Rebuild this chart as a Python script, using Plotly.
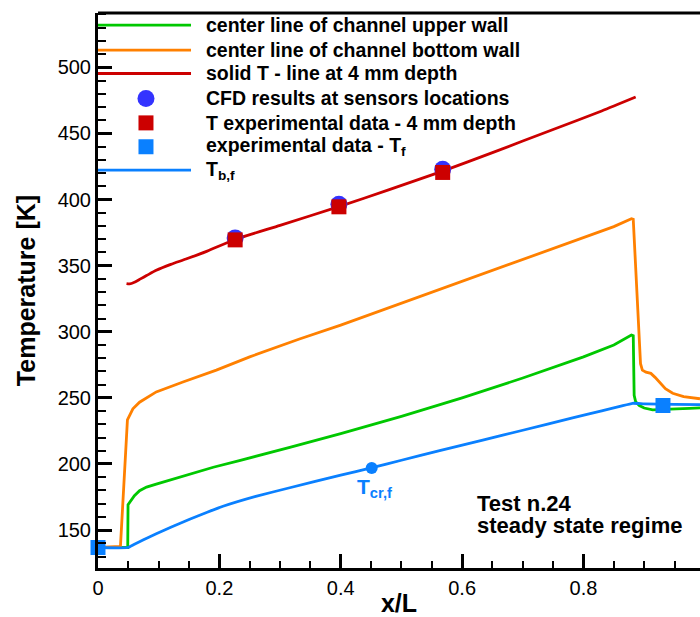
import plotly.graph_objects as go

# ---------------- data ----------------
upper_x = [0, 0.049, 0.0495, 0.06, 0.0685, 0.08, 0.096, 0.12, 0.151, 0.19, 0.233, 0.28, 0.316,
           0.4, 0.5, 0.6, 0.7, 0.8, 0.85, 0.879, 0.882, 0.8835, 0.886, 0.892, 0.9, 0.914, 0.93,
           0.953, 0.975, 0.992]
upper_T = [136.8, 136.8, 169.2, 176, 179.8, 182.5, 184.8, 188, 192.4, 197.5, 202.5, 208, 212.6,
           223, 236, 250, 265, 281, 290, 297.5, 297, 252, 247, 244.2, 242.3, 240.9, 241,
           241.7, 242.1, 242.4]

bottom_x = [0, 0.037, 0.0485, 0.0575, 0.0685, 0.096, 0.14, 0.195, 0.25, 0.332, 0.4, 0.5, 0.6,
            0.7, 0.8, 0.85, 0.879, 0.882, 0.894, 0.897, 0.903, 0.911, 0.918, 0.925, 0.935,
            0.947, 0.965, 0.992]
bottom_T = [136.8, 137.6, 233.4, 241.7, 246.7, 254.5, 262, 271, 281, 294.5, 305, 321.5, 338,
            354.5, 371, 379.5, 385.5, 385, 275.8, 271, 269.4, 268.5, 265.5, 261.8, 257,
            253.5, 251, 249.3]

solid_x = [0.047, 0.052, 0.06, 0.07, 0.08, 0.096, 0.12, 0.145, 0.18, 0.226, 0.3, 0.397, 0.48,
           0.568, 0.65, 0.75, 0.83, 0.886]
solid_T = [336.4, 336.2, 337.5, 340, 342.5, 346.5, 351, 355, 361, 369.8, 380.5, 394.6,
           407.5, 421.5, 435.5, 453, 467, 477.5]

sensor_x = [0.226, 0.397, 0.568]
cfd_T = [371, 396.5, 423]
exp_solid_T = [369.5, 394.5, 420.5]

exp_fluid_x = [0.0, 0.931]
exp_fluid_T = [136.8, 244.2]

bulk_x = [0, 0.049, 0.06, 0.075, 0.096, 0.12, 0.151, 0.18, 0.206, 0.26, 0.316, 0.4, 0.45, 0.5,
          0.563, 0.634, 0.7, 0.782, 0.83, 0.86, 0.881, 0.9, 0.95, 0.992]
bulk_T = [136.8, 136.8, 139.3, 142.7, 147.2, 152.1, 158.2, 163.5, 168, 175.5, 182, 191.6, 197,
          202.8, 210, 218, 225.5, 234.8, 240.2, 243.5, 245.9, 245.5, 245, 244.9]

tcr_x = [0.451]
tcr_T = [197]

x_ticks = [0, 0.2, 0.4, 0.6, 0.8]
y_ticks = [150, 200, 250, 300, 350, 400, 450, 500]

legend_labels = ["center line of channel upper wall", "center line of channel bottom wall",
                 "solid T - line at 4 mm depth", "CFD results at sensors locations",
                 "T experimental data - 4 mm depth", "experimental data - T<sub>f</sub>",
                 "T<sub>b,f</sub>"]

# ---------------- styles ----------------
GREEN = "#00C800"
ORANGE = "#FF8000"
RED = "#CC0000"
BLUE_LINE = "#0A80FF"
BLUE_CIRCLE = "#3333FF"
FONT = "Liberation Sans, Arial, sans-serif"

fig = go.Figure()
fig.add_trace(go.Scatter(x=upper_x, y=upper_T, mode="lines", line=dict(color=GREEN, width=2.8),
                         showlegend=False))
fig.add_trace(go.Scatter(x=bottom_x, y=bottom_T, mode="lines", line=dict(color=ORANGE, width=2.8),
                         showlegend=False))
fig.add_trace(go.Scatter(x=solid_x, y=solid_T, mode="lines",
                         line=dict(color=RED, width=2.8, shape="spline", smoothing=0.6),
                         showlegend=False))
fig.add_trace(go.Scatter(x=bulk_x, y=bulk_T, mode="lines",
                         line=dict(color=BLUE_LINE, width=2.8, shape="spline", smoothing=0.4),
                         showlegend=False))
fig.add_trace(go.Scatter(x=sensor_x, y=cfd_T, mode="markers",
                         marker=dict(symbol="circle", size=17, color=BLUE_CIRCLE, line=dict(width=0)),
                         showlegend=False))
fig.add_trace(go.Scatter(x=sensor_x, y=exp_solid_T, mode="markers",
                         marker=dict(symbol="square", size=15, color=RED, line=dict(width=0)),
                         showlegend=False))
fig.add_trace(go.Scatter(x=exp_fluid_x, y=exp_fluid_T, mode="markers",
                         marker=dict(symbol="square", size=15, color=BLUE_LINE, line=dict(width=0)),
                         showlegend=False, cliponaxis=False))
fig.add_trace(go.Scatter(x=tcr_x, y=tcr_T, mode="markers",
                         marker=dict(symbol="circle", size=12, color=BLUE_LINE, line=dict(width=0)),
                         showlegend=False))

# ---------------- manual legend (Tecplot style) ----------------
leg_y = [0.978, 0.933, 0.891, 0.846, 0.802, 0.759, 0.717]
leg_kind = ["line", "line", "line", "circle", "square", "square", "line"]
leg_col = [GREEN, ORANGE, RED, BLUE_CIRCLE, RED, BLUE_LINE, BLUE_LINE]
shapes = []
annotations = []
for lab, yy, kind, col in zip(legend_labels, leg_y, leg_kind, leg_col):
    if kind == "line":
        shapes.append(dict(type="line", xref="paper", yref="paper", x0=0.0, x1=0.1545, y0=yy, y1=yy,
                           line=dict(color=col, width=2.8)))
    else:
        half = 8.5 if kind == "circle" else 7.5
        shapes.append(dict(type="circle" if kind == "circle" else "rect", xref="paper", yref="paper",
                           xsizemode="pixel", ysizemode="pixel", xanchor=0.0797, yanchor=yy,
                           x0=-half, x1=half, y0=-half, y1=half, fillcolor=col, line=dict(width=0)))
    annotations.append(dict(xref="paper", yref="paper", x=0.176, y=yy, xanchor="left", yanchor="middle",
                            text=lab, showarrow=False,
                            font=dict(family=FONT, size=19.5, color="black", weight="bold")))

# top frame line
shapes.append(dict(type="line", xref="paper", yref="paper", x0=0, x1=1, y0=1, y1=1,
                   line=dict(color="black", width=3)))

annotations.append(dict(xref="x", yref="y", x=tcr_x[0], y=tcr_T[0], xanchor="center", yanchor="top",
                        xshift=3, yshift=-5, text="<b>T<sub>cr,f</sub></b>", showarrow=False,
                        font=dict(family=FONT, size=21, color=BLUE_LINE)))
annotations.append(dict(xref="paper", yref="paper", x=0.627, y=0.117, xanchor="left", yanchor="middle",
                        text="Test n.24", showarrow=False,
                        font=dict(family=FONT, size=22, color="black", weight="bold")))
annotations.append(dict(xref="paper", yref="paper", x=0.627, y=0.077, xanchor="left", yanchor="middle",
                        text="steady state regime", showarrow=False,
                        font=dict(family=FONT, size=22, color="black", weight="bold")))

fig.update_layout(
    width=700, height=617,
    margin=dict(l=98, r=0, t=13, b=49, pad=0),
    plot_bgcolor="white", paper_bgcolor="white",
    shapes=shapes, annotations=annotations,
    font=dict(family=FONT, color="black"),
)
fig.update_xaxes(range=[0, 0.992], tickvals=x_ticks, ticktext=["0", "0.2", "0.4", "0.6", "0.8"],
                 automargin=False,
                 showgrid=False, zeroline=False, showline=True, linecolor="black", linewidth=3,
                 ticks="inside", ticklen=14, tickwidth=2.5, tickcolor="black",
                 minor=dict(ticks="inside", ticklen=7, tickwidth=1.5, dtick=0.05, tick0=0,
                            tickcolor="black", showgrid=False),
                 tickfont=dict(family=FONT, size=20, color="black"),
                 title=dict(text="x/L", standoff=3,
                            font=dict(family=FONT, size=25, color="black", weight="bold")))
fig.update_yaxes(range=[121.3, 541.1], tickvals=y_ticks, automargin=False,
                 showgrid=False, zeroline=False, showline=True, linecolor="black", linewidth=3,
                 ticks="inside", ticklen=14, tickwidth=2.5, tickcolor="black",
                 minor=dict(ticks="inside", ticklen=8, tickwidth=1.5, dtick=10, tick0=0,
                            tickcolor="black", showgrid=False),
                 tickfont=dict(family=FONT, size=20, color="black"), ticklabelstandoff=0,
                 title=dict(text="Temperature [K]", standoff=15,
                            font=dict(family=FONT, size=25, color="black", weight="bold")))

# remove the page's default body margin so the 700x617 figure fills the window exactly
fig.write_html("out.html", config={"displayModeBar": False},
               post_script="document.body.style.margin='0';document.body.style.overflow='hidden';")
